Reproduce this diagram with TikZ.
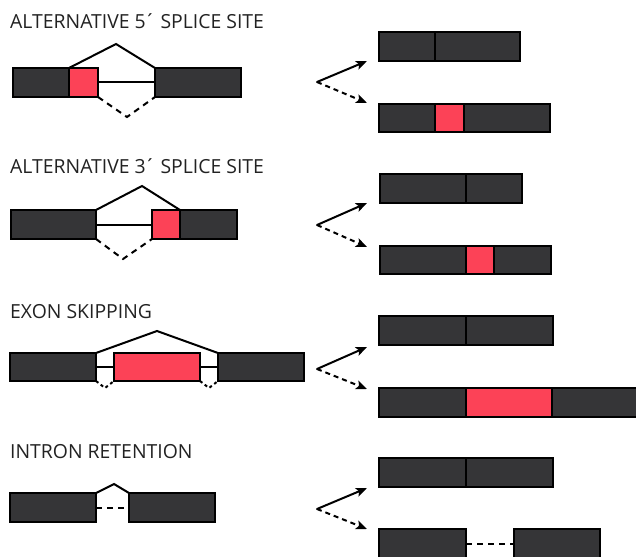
\documentclass[tikz,border=0pt]{standalone}
\usepackage{fontspec}
\setmainfont{Open Sans}
\usetikzlibrary{arrows.meta,fit}
\definecolor{exondark}{HTML}{353537}
\definecolor{exonred}{HTML}{FC4257}
\definecolor{titlegray}{HTML}{222222}
\tikzset{
  exon/.style={draw=black, line width=2pt, fill=exondark, inner sep=0pt, outer sep=0pt},
  altexon/.style={draw=black, line width=2pt, fill=exonred, inner sep=0pt, outer sep=0pt},
  splice/.style={draw=black, line width=2pt, line join=miter},
  dsplice/.style={splice, dash pattern=on 6pt off 5pt},
  arr/.style={draw=black, line width=2pt, line cap=round, -{Stealth[length=11pt,width=9pt,inset=2.5pt]}},
  darr/.style={arr, line cap=butt, dash pattern=on 5pt off 4pt},
  paneltitle/.style={anchor=base west, inner sep=0pt, text=titlegray, font=\fontsize{19.4}{22}\selectfont},
}
\newcommand\bx[6]{\node[#1, fit={(#3,#4) (#5,#6)}] (#2) {};}
\begin{document}
\begin{tikzpicture}[x=1pt,y=-1pt]
\useasboundingbox (0,0) rectangle (636,556);
\clip (0,0) rectangle (636,556);

% ---------- Panel 1 ----------
\node[paneltitle] (t1) at (10,29) {ALTERNATIVE 5\kern-1.5pt´ SPLICE SITE};
\bx{exon}{a1}{13}{68}{69}{97}
\bx{altexon}{r1}{69}{68}{98}{97}
\bx{exon}{b1}{155}{68}{241}{97}
\coordinate (p1) at (116,44);
\coordinate (v1) at (127,117);
\draw[splice] (r1.north west) -- (p1) -- (b1.north west);
\draw[splice] (r1.east) -- (b1.west);
\draw[dsplice] (r1.south east) -- (v1) -- (b1.south west);
\coordinate (o1) at (317,82);
\coordinate (u1) at (367,61);
\coordinate (d1) at (367,103);
\draw[arr] (o1) -- (u1);
\draw[darr] (o1) -- (d1);
\bx{exon}{m1a}{379}{32}{435}{61}
\bx{exon}{m1b}{435}{32}{520}{61}
\bx{exon}{n1a}{379}{104}{435}{132}
\bx{altexon}{n1r}{435}{104}{464}{132}
\bx{exon}{n1b}{464}{104}{550}{132}

% ---------- Panel 2 ----------
\node[paneltitle] (t2) at (10,173) {ALTERNATIVE 3\kern-1.5pt´ SPLICE SITE};
\bx{exon}{a2}{11}{210}{96}{239}
\bx{altexon}{r2}{152}{210}{180}{239}
\bx{exon}{b2}{180}{210}{237}{239}
\coordinate (p2) at (142,186);
\coordinate (v2) at (123,259);
\draw[splice] (a2.north east) -- (p2) -- (b2.north west);
\draw[splice] (a2.east) -- (r2.west);
\draw[dsplice] (a2.south east) -- (v2) -- (r2.south west);
\coordinate (o2) at (317,225);
\coordinate (u2) at (367,203);
\coordinate (d2) at (367,247);
\draw[arr] (o2) -- (u2);
\draw[darr] (o2) -- (d2);
\bx{exon}{m2a}{380}{174}{466}{203}
\bx{exon}{m2b}{466}{174}{522}{203}
\bx{exon}{n2a}{380}{246}{466}{274}
\bx{altexon}{n2r}{466}{246}{494}{274}
\bx{exon}{n2b}{494}{246}{551}{274}

% ---------- Panel 3 ----------
\node[paneltitle] (t3) at (10,318) {EXON SKIPPING};
\bx{exon}{a3}{10}{353}{96}{381}
\bx{altexon}{r3}{114}{353}{200}{381}
\bx{exon}{b3}{218}{353}{304}{381}
\coordinate (p3) at (157,331);
\coordinate (v3a) at (105,388);
\coordinate (v3b) at (209,388);
\draw[splice] (a3.north east) -- (p3) -- (b3.north west);
\draw[splice] (a3.east) -- (r3.west);
\draw[splice] (r3.east) -- (b3.west);
\draw[splice, dash pattern=on 3pt off 3pt] (a3.south east) -- (v3a) -- (r3.south west);
\draw[splice, dash pattern=on 3pt off 3pt] (r3.south east) -- (v3b) -- (b3.south west);
\coordinate (o3) at (317,369);
\coordinate (u3) at (367,347);
\coordinate (d3) at (367,389);
\draw[arr] (o3) -- (u3);
\draw[darr] (o3) -- (d3);
\bx{exon}{m3a}{379}{316}{466}{345}
\bx{exon}{m3b}{466}{316}{553}{345}
\bx{exon}{n3a}{379}{388}{466}{417}
\bx{altexon}{n3r}{466}{388}{552}{417}
\bx{exon}{n3b}{552}{388}{642}{417}

% ---------- Panel 4 ----------
\node[paneltitle] (t4) at (10,458) {INTRON RETENTION};
\bx{exon}{a4}{10}{493}{96}{522}
\bx{exon}{b4}{129}{493}{215}{522}
\coordinate (p4) at (114,484);
\draw[splice] (a4.north east) -- (p4) -- (b4.north west);
\draw[dsplice] (a4.east) -- (b4.west);
\coordinate (o4) at (317,509);
\coordinate (u4) at (367,488);
\coordinate (d4) at (367,529);
\draw[arr] (o4) -- (u4);
\draw[darr] (o4) -- (d4);
\bx{exon}{m4a}{379}{458}{466}{487}
\bx{exon}{m4b}{466}{458}{553}{487}
\bx{exon}{n4a}{379}{529}{466}{560}
\bx{exon}{n4b}{514}{529}{600}{560}
\draw[dsplice] (n4a.east |- 0,544) -- (n4b.west |- 0,544);
\end{tikzpicture}
\end{document}
